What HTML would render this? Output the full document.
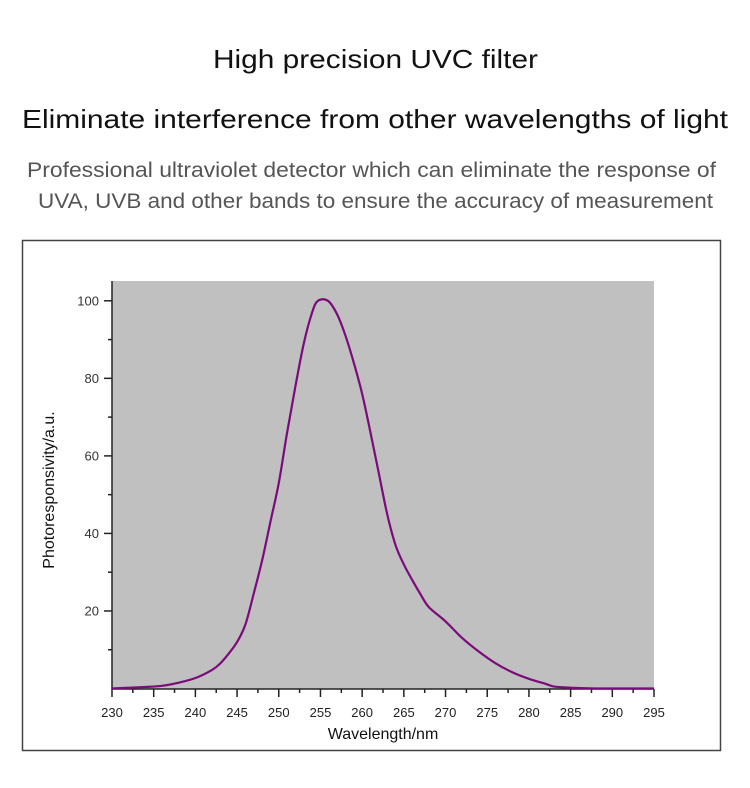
<!DOCTYPE html>
<html><head><meta charset="utf-8"><style>
html,body{margin:0;padding:0;background:#fff;}
svg{display:block;font-family:"Liberation Sans",Arial,sans-serif;}
</style></head><body>
<svg id="chart" width="750" height="788" viewBox="0 0 750 788">
<text x="375.5" y="68" font-size="26" text-anchor="middle" fill="#111" textLength="325" lengthAdjust="spacingAndGlyphs">High precision UVC filter</text>
<text x="375" y="128" font-size="26" text-anchor="middle" fill="#111" textLength="706" lengthAdjust="spacingAndGlyphs">Eliminate interference from other wavelengths of light</text>
<text x="371.5" y="177" font-size="21" text-anchor="middle" fill="#555" textLength="689" lengthAdjust="spacingAndGlyphs">Professional ultraviolet detector which can eliminate the response of</text>
<text x="375.5" y="208" font-size="21" text-anchor="middle" fill="#555" textLength="675" lengthAdjust="spacingAndGlyphs">UVA, UVB and other bands to ensure the accuracy of measurement</text>
<rect x="22.5" y="240.5" width="698" height="510" fill="#fff" stroke="#444" stroke-width="1.5"/>
<rect x="112" y="281" width="542" height="408" fill="#c0c0c0"/>
<g id="axes"></g>
<path id="curve" fill="none" stroke="#7b0a7b" stroke-width="2.2" stroke-linejoin="round"/>
<text x="383" y="739" font-size="16" text-anchor="middle" fill="#111">Wavelength/nm</text>
<text transform="translate(54,490) rotate(-90)" font-size="16" text-anchor="middle" fill="#111">Photoresponsivity/a.u.</text>
</svg>
<script>
const wavelengths=[230,232,234,236,238,240,242,243,244,245,246,247,248,249,250,251,252,253,254,254.7,255.9,257,258,259,260,261,262,263,264,265,266,267,268,270,272,274,276,278,280,282,283,285,288,295];
const response=[0,0.2,0.4,0.7,1.5,2.7,4.8,6.5,9,12,16.5,24.5,33,43,53,66,78,89,97,100,100,96.5,91,84,76,66,55.5,45,37,32,28,24.3,21,17.3,13,9.5,6.5,4.2,2.5,1.2,0.5,0.2,0,0];
const xTicks=[230,235,240,245,250,255,260,265,270,275,280,285,290,295];
const yTicks=[20,40,60,80,100];
const X0=112,X1=654,Y0=688.5,PXV=3.877;
const xs=w=>X0+(w-230)*(X1-X0)/65;
const ys=v=>Y0-v*PXV;
const NS="http://www.w3.org/2000/svg";
const g=document.getElementById('axes');
function line(x1,y1,x2,y2,w){const l=document.createElementNS(NS,'line');l.setAttribute('x1',x1);l.setAttribute('y1',y1);l.setAttribute('x2',x2);l.setAttribute('y2',y2);l.setAttribute('stroke','#222');l.setAttribute('stroke-width',w||1.5);g.appendChild(l);return l;}
let a=line(X0,281,X0,689.5);


a=line(X0,689,X1,689);


xTicks.forEach((t,i)=>{
  const x=xs(t);
  const tk=line(x,689,x,697);
  
  
  if(i<xTicks.length-1){const m=line(xs(t+2.5),689,xs(t+2.5),693);
  
  }
  const tx=document.createElementNS(NS,'text');
  tx.setAttribute('x',x);tx.setAttribute('y',717);tx.setAttribute('font-size','13');tx.setAttribute('text-anchor','middle');tx.setAttribute('fill','#222');
  
  
  tx.textContent=t;g.appendChild(tx);
});
yTicks.forEach(t=>{
  const y=ys(t);
  const tk=line(104,y,X0,y);
  
  
  const m=line(108,ys(t-10),X0,ys(t-10));
  
  
  const tx=document.createElementNS(NS,'text');
  tx.setAttribute('x',99);tx.setAttribute('y',y+4.5);tx.setAttribute('font-size','13');tx.setAttribute('text-anchor','end');tx.setAttribute('fill','#333');
  
  
  tx.textContent=t;g.appendChild(tx);
});
const pts=wavelengths.map((w,i)=>[xs(w),ys(response[i])]);
let d='M'+pts[0][0]+','+pts[0][1];
for(let i=0;i<pts.length-1;i++){
  const p0=pts[i-1]||pts[i],p1=pts[i],p2=pts[i+1],p3=pts[i+2]||p2;
  const c1x=p1[0]+(p2[0]-p0[0])/6,c1y=p1[1]+(p2[1]-p0[1])/6;
  const c2x=p2[0]-(p3[0]-p1[0])/6,c2y=p2[1]-(p3[1]-p1[1])/6;
  d+=' C'+c1x+','+Math.min(c1y,Y0)+' '+c2x+','+Math.min(c2y,Y0)+' '+p2[0]+','+p2[1];
}
document.getElementById('curve').setAttribute('d',d);
</script>
</body></html>
